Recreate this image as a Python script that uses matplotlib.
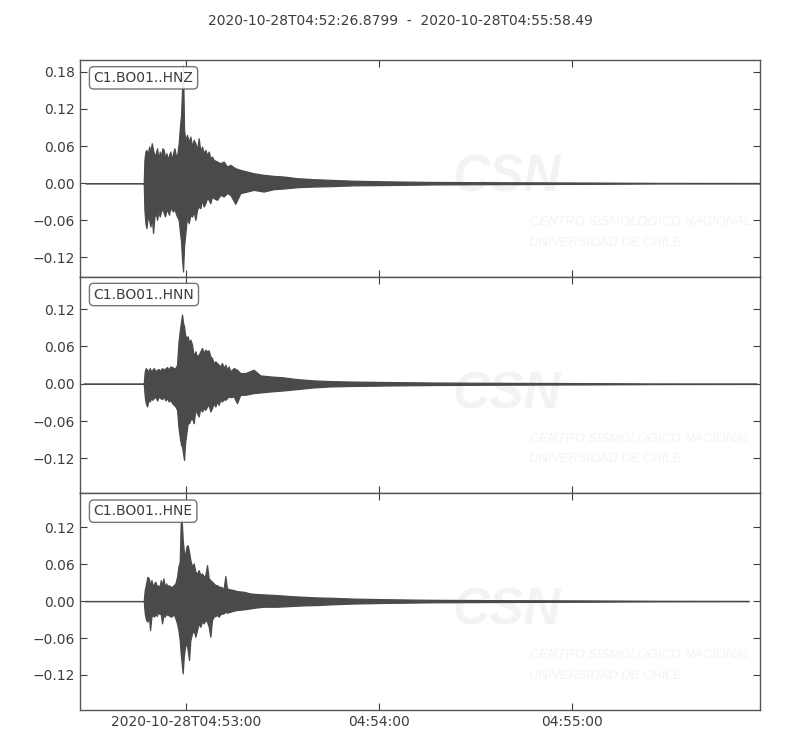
import numpy as np
import matplotlib
matplotlib.use("Agg")
import matplotlib.pyplot as plt
import matplotlib.dates as mdates
from matplotlib.ticker import MultipleLocator, FuncFormatter

start = np.datetime64("2020-10-28T04:52:26.879900")
end_sec = 211.61
title = "2020-10-28T04:52:26.8799  -  2020-10-28T04:55:58.49"
labels = ["C1.BO01..HNZ", "C1.BO01..HNN", "C1.BO01..HNE"]

# min/max envelope: seconds after start, upper, lower
t_hnz = [1.7, 19.84, 20.05, 20.36, 20.67, 21.09, 21.50, 21.92, 22.33, 22.74,
         23.16, 23.57, 23.99, 24.40, 24.82, 25.23, 25.65, 26.06, 26.47, 26.89,
         27.30, 27.72, 28.13, 28.55, 28.96, 29.38, 29.79, 30.20, 30.72, 31.14,
         31.45, 31.76, 32.07, 32.38, 32.79, 33.31, 33.83, 34.35, 34.87, 35.38,
         35.90, 36.42, 36.94, 37.46, 37.97, 38.49, 39.01, 39.53, 40.05, 40.56,
         41.08, 41.60, 42.64, 43.67, 44.71, 45.74, 46.78, 48.33, 49.89, 51.96,
         54.03, 57.14, 60.25, 63.36, 67.50, 72.68, 77.86, 85.0, 95.0, 110.0,
         130.0, 160.0, 180.0, 211.6]
up_hnz = [0, 0, .0377, .0511, .0538, .0457, .0592, .0511, .0646, .0538,
          .0430, .0484, .0565, .0377, .0511, .0430, .0565, .0538, .0404, .0484,
          .0377, .0457, .0511, .0377, .0484, .0565, .0457, .0430, .0646, .0942,
          .1100, .1510, .1900, .0861, .0700, .0780, .0673, .0753, .0592, .0700,
          .0646, .0538, .0726, .0511, .0592, .0484, .0538, .0457, .0511, .0404,
          .0430, .0377, .0350, .0323, .0350, .0269, .0296, .0242, .0215, .0188,
          .0161, .0135, .0118, .0108, .0081, .0065, .0054, .0040, .0030, .0020,
          .0015, .0010, .0005, .0003]
lo_hnz = [0, 0, -.0430, -.0646, -.0726, -.0538, -.0592, -.0700, -.0538, -.0807,
          -.0538, -.0484, -.0592, -.0457, -.0538, -.0457, -.0404, -.0484, -.0538, -.0430,
          -.0457, -.0511, -.0377, -.0430, -.0457, -.0404, -.0484, -.0538, -.0592, -.0807,
          -.0940, -.1240, -.1426, -.1020, -.0807, -.0538, -.0646, -.0511, -.0538, -.0457,
          -.0592, -.0430, -.0377, -.0404, -.0269, -.0377, -.0323, -.0242, -.0269, -.0323,
          -.0215, -.0242, -.0269, -.0188, -.0215, -.0161, -.0188, -.0334, -.0161, -.0135,
          -.0108, -.0135, -.0097, -.0086, -.0065, -.0054, -.0048, -.0035, -.0030, -.0020,
          -.0015, -.0010, -.0005, -.0003]

t_hnn = [1.1, 19.84, 20.15, 20.47, 20.88, 21.29, 21.71, 22.12, 22.54, 22.95,
         23.47, 23.99, 24.51, 25.02, 25.54, 26.06, 26.58, 27.10, 27.61, 28.13,
         28.65, 29.17, 29.69, 30.20, 30.62, 31.03, 31.45, 31.76, 32.07, 32.38,
         32.69, 33.10, 33.52, 33.93, 34.35, 34.87, 35.38, 35.90, 36.42, 36.94,
         37.46, 37.97, 38.49, 39.01, 39.53, 40.05, 40.56, 41.08, 41.60, 42.12,
         42.64, 43.15, 43.67, 44.19, 44.71, 45.23, 45.74, 46.26, 46.78, 47.82,
         48.85, 49.89, 51.44, 54.03, 56.10, 59.21, 63.36, 67.50, 72.68, 77.86,
         85.0, 95.0, 110.0, 130.0, 160.0, 180.0, 210.6]
up_hnn = [0, 0, .0199, .0252, .0226, .0199, .0252, .0199, .0226, .0252,
          .0199, .0226, .0236, .0209, .0252, .0226, .0247, .0269, .0226, .0279,
          .0269, .0252, .0252, .0306, .0655, .0843, .1004, .1112, .0977, .0923,
          .0789, .0736, .0763, .0655, .0709, .0628, .0440, .0521, .0440, .0467,
          .0521, .0575, .0494, .0548, .0521, .0537, .0440, .0413, .0333, .0360,
          .0333, .0306, .0279, .0333, .0252, .0306, .0226, .0279, .0199, .0252,
          .0226, .0172, .0172, .0226, .0134, .0118, .0102, .0075, .0054, .0043,
          .0035, .0028, .0020, .0015, .0010, .0005, .0003]
lo_hnn = [0, 0, -.0204, -.0311, -.0365, -.0258, -.0285, -.0231, -.0258, -.0231,
          -.0204, -.0269, -.0204, -.0231, -.0247, -.0204, -.0269, -.0231, -.0285, -.0258,
          -.0311, -.0338, -.0365, -.0419, -.0687, -.0848, -.0983, -.1010, -.1117, -.1224,
          -.0956, -.0795, -.0634, -.0634, -.0580, -.0553, -.0634, -.0419, -.0473, -.0526,
          -.0392, -.0446, -.0392, -.0419, -.0365, -.0338, -.0446, -.0392, -.0311, -.0365,
          -.0285, -.0338, -.0258, -.0285, -.0247, -.0258, -.0231, -.0204, -.0215, -.0204,
          -.0311, -.0177, -.0177, -.0150, -.0140, -.0124, -.0107, -.0086, -.0059, -.0043,
          -.0035, -.0028, -.0020, -.0015, -.0010, -.0005, -.0003]

t_hne = [1.5, 19.84, 20.15, 20.57, 20.98, 21.40, 21.81, 22.23, 22.64, 23.06,
         23.47, 23.88, 24.30, 24.71, 25.13, 25.54, 25.96, 26.37, 26.79, 27.20,
         27.61, 28.13, 28.65, 29.17, 29.69, 30.20, 30.62, 31.03, 31.34, 31.65,
         31.97, 32.28, 32.69, 33.10, 33.52, 33.93, 34.35, 34.87, 35.38, 35.90,
         36.42, 36.94, 37.46, 37.97, 38.49, 39.01, 39.53, 40.05, 40.56, 41.08,
         41.60, 42.12, 42.64, 43.15, 43.67, 44.71, 45.23, 45.74, 46.78, 47.82,
         48.85, 50.92, 52.98, 55.07, 57.14, 61.28, 65.43, 69.57, 73.72, 77.86,
         85.0, 95.0, 110.0, 130.0, 160.0, 180.0, 208.1]
up_hne = [0, 0, .0179, .0287, .0395, .0368, .0260, .0341, .0233, .0287,
          .0314, .0233, .0260, .0206, .0341, .0260, .0368, .0233, .0287, .0233,
          .0260, .0233, .0233, .0260, .0287, .0395, .0557, .0638, .1260, .1315,
          .0990, .0828, .0720, .0882, .0909, .0801, .0665, .0557, .0611, .0476,
          .0449, .0503, .0422, .0449, .0395, .0422, .0584, .0368, .0341, .0314,
          .0287, .0260, .0260, .0233, .0233, .0206, .0406, .0206, .0189, .0179,
          .0162, .0151, .0124, .0114, .0108, .0097, .0081, .0070, .0059, .0054,
          .0040, .0030, .0020, .0015, .0010, .0005, .0003]
lo_hne = [0, 0, -.0200, -.0308, -.0335, -.0227, -.0471, -.0254, -.0227, -.0254,
          -.0200, -.0243, -.0173, -.0211, -.0200, -.0362, -.0227, -.0254, -.0200, -.0227,
          -.0227, -.0254, -.0243, -.0211, -.0281, -.0362, -.0471, -.0633, -.0849, -.1012,
          -.1174, -.0903, -.0741, -.0687, -.0795, -.0958, -.0633, -.0525, -.0471, -.0579,
          -.0471, -.0362, -.0417, -.0335, -.0362, -.0308, -.0335, -.0417, -.0579, -.0308,
          -.0254, -.0243, -.0227, -.0254, -.0211, -.0200, -.0173, -.0189, -.0173, -.0157,
          -.0146, -.0135, -.0119, -.0103, -.0092, -.0092, -.0081, -.0070, -.0065, -.0054,
          -.0040, -.0030, -.0020, -.0015, -.0010, -.0005, -.0003]

ylims = [(-0.151, 0.199), (-0.176, 0.172), (-0.177, 0.175)]

traces = [(t_hnz, up_hnz, lo_hnz), (t_hnn, up_hnn, lo_hnn), (t_hne, up_hne, lo_hne)]

trace_col = "#4a4a4a"
text_col = "#3d3d3d"
mark_col = "#f3f3f3"
sans = ["Liberation Sans", "DejaVu Sans"]


def to_num(sec):
    sec = np.asarray(sec, dtype=float)
    return mdates.date2num(start + (sec * 1e6).astype("timedelta64[us]"))


def fmt_time(x, pos):
    d = mdates.num2date(x)
    if pos == 0:
        return d.strftime("%Y-%m-%dT%H:%M:%S")
    return d.strftime("%H:%M:%S")


fig, axes = plt.subplots(3, 1, figsize=(8, 7.5), dpi=100, sharex=True)
fig.subplots_adjust(left=0.1, right=0.95, top=0.92, bottom=0.0533, hspace=0)

for i, ax in enumerate(axes):
    t, up, lo = traces[i]
    x = to_num(t)
    # faint logo in the background
    ax.text(0.628, 0.456, "CSN", transform=ax.transAxes, ha="center", va="center",
            fontsize=37, fontweight="bold", fontstyle="italic", family=sans,
            color=mark_col, zorder=0)
    ax.text(0.662, 0.253, "CENTRO SISMOLÓGICO NACIONAL", transform=ax.transAxes,
            ha="left", va="center", fontsize=9.4, fontstyle="italic", family=sans,
            color=mark_col, zorder=0)
    ax.text(0.660, 0.157, "UNIVERSIDAD DE CHILE", transform=ax.transAxes,
            ha="left", va="center", fontsize=9.4, fontstyle="italic", family=sans,
            color=mark_col, zorder=0)
    ax.fill_between(x, lo, up, facecolor=trace_col, edgecolor=trace_col, lw=0.9, zorder=2)
    ax.set_ylim(*ylims[i])
    ax.yaxis.set_major_locator(MultipleLocator(0.06))
    ax.tick_params(direction="in", top=True, right=True, length=5, width=0.8,
                   colors=text_col, labelsize=10, labelcolor=text_col)
    for s in ax.spines.values():
        s.set_color("#555555")
        s.set_linewidth(1.0)
    ax.text(0.02, 0.95, labels[i], transform=ax.transAxes, ha="left", va="top",
            fontsize=10, color=text_col, zorder=5,
            bbox=dict(boxstyle="round,pad=0.3", fc="white", ec="#666666", alpha=0.9))

axes[0].set_xlim(to_num(0.0), to_num(end_sec))
axes[-1].xaxis.set_major_locator(mdates.MinuteLocator())
axes[-1].xaxis.set_major_formatter(FuncFormatter(fmt_time))
for ax in axes[:-1]:
    ax.tick_params(labelbottom=False)

fig.suptitle(title, y=0.981, fontsize=10, color=text_col)
fig.savefig("out.png", dpi=100)
